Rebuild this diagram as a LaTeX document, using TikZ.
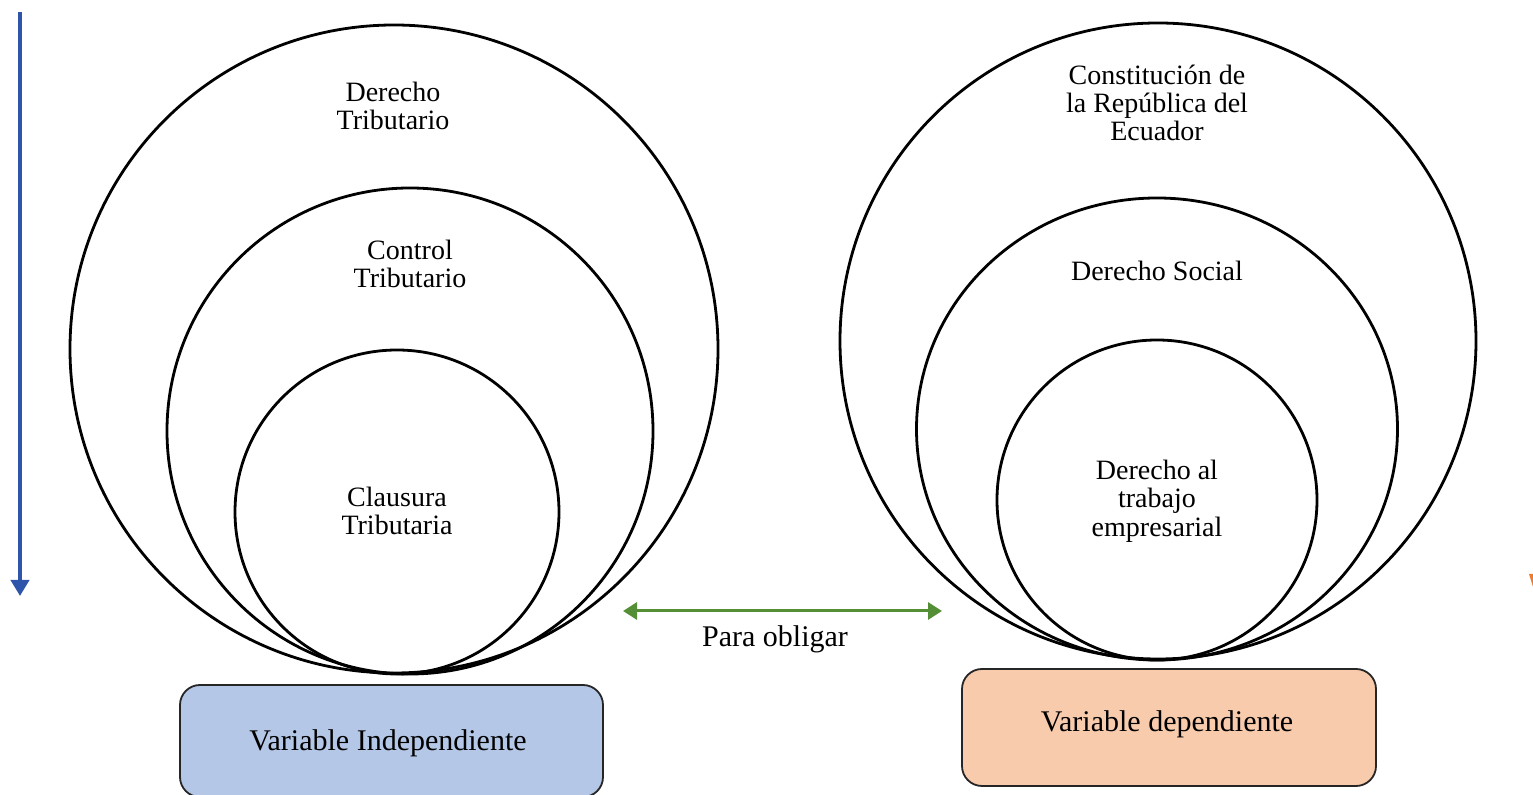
\documentclass[tikz,border=0pt]{standalone}
\usepackage{fontspec}
\setmainfont{Liberation Serif}
\usetikzlibrary{arrows.meta,shapes.geometric}
\definecolor{bluefill}{RGB}{180,199,231}
\definecolor{orangefill}{RGB}{248,203,173}
\definecolor{arrowgreen}{RGB}{84,142,53}
\definecolor{arrowblue}{RGB}{47,85,170}
\definecolor{markorange}{RGB}{237,125,49}
\tikzset{
  ring/.style={circle, draw=black, line width=1.4pt, inner sep=0pt},
  ringlabel/.style={align=center, font=\fontsize{14}{14.2}\selectfont, inner sep=0pt},
  varbox/.style={draw=black!85, line width=0.9pt, rounded corners=10pt, inner sep=0pt,
     font=\fontsize{15}{17}\selectfont},
  biarrow/.style={arrowgreen, line width=1.5pt, {Triangle[length=7pt,width=8.5pt]}-{Triangle[length=7pt,width=8.5pt]}},
  downarrow/.style={arrowblue, line width=2.2pt, -{Triangle[length=8pt,width=9pt]}}
}
\begin{document}
\begin{tikzpicture}[x=0.5pt,y=-0.5pt]
\path[use as bounding box] (0,0) rectangle (1533,795);
% left circles
\node[ring, minimum size=324pt] (lo) at (394,349) {};
\node[ring, minimum size=243pt] (lm) at (410,431) {};
\node[ring, minimum size=162pt] (li) at (397,512) {};
% right circles
\node[ring, minimum size=318pt] (ro) at (1158,341) {};
\node[ellipse, draw=black, line width=1.4pt, inner sep=0pt, minimum width=240.5pt, minimum height=231pt] (rm) at (1157,429) {};
\node[ring, minimum size=160pt] (ri) at (1157,500) {};
% labels
\node[ringlabel] (t1) at (393,106) {Derecho\\Tributario};
\node[ringlabel] (t2) at (410,264) {Control\\Tributario};
\node[ringlabel] (t3) at (397,511) {Clausura\\Tributaria};
\node[ringlabel] (t4) at (1157,103) {Constitución de\\la República del\\Ecuador};
\node[ringlabel] (t5) at (1157,271) {Derecho Social};
\node[ringlabel] (t6) at (1157,501) {Derecho al\\trabajo\\empresarial};
% boxes
\node[varbox, fill=bluefill, minimum width=211.5pt, minimum height=56pt] (vi) at (391.5,741) {};
\node[font=\fontsize{15}{17}\selectfont] (vitxt) at (388,743) {Variable Independiente};
\node[varbox, fill=orangefill, minimum width=207pt, minimum height=58.5pt] (vd) at (1169,727.5) {};
\node[font=\fontsize{15}{17}\selectfont] (vdtxt) at (1167,724) {Variable dependiente};
% green double arrow
\coordinate (ga) at (623,611);
\coordinate (gb) at (942,611);
\draw[biarrow] (ga) -- (gb);
\node[font=\fontsize{15}{17}\selectfont] (po) at (775,639) {Para obligar};
% blue arrow
\coordinate (ba) at (20,12);
\coordinate (bb) at (20,596);
\draw[downarrow] (ba) -- (bb);
% cut-off orange mark at the right edge
\fill[markorange] (1529,574) -- (1534,574) -- (1534,590) -- cycle;
\end{tikzpicture}
\end{document}
